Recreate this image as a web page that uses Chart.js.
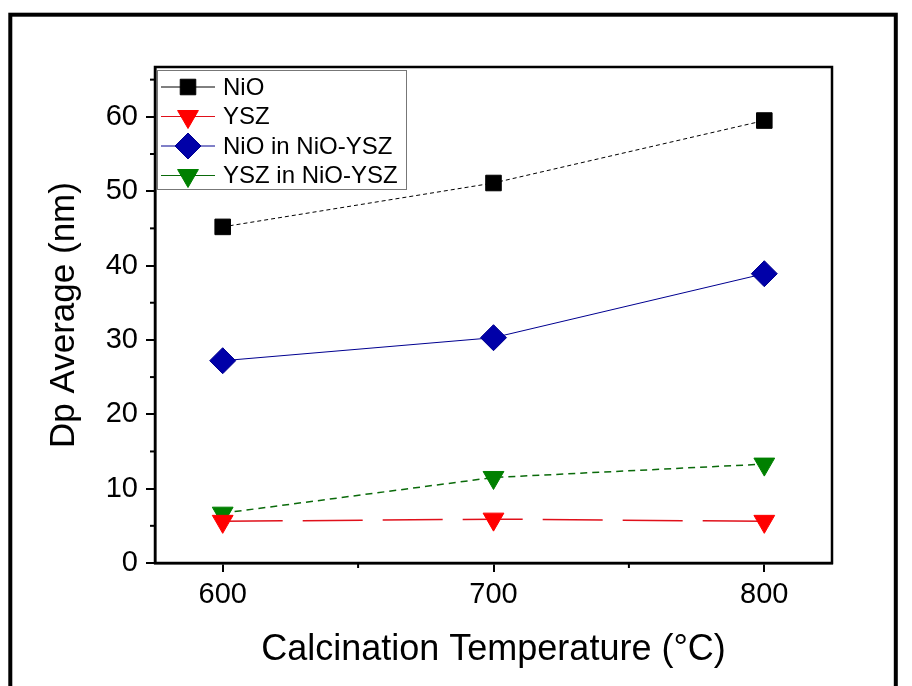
<!DOCTYPE html>
<html>
<head>
<meta charset="utf-8">
<script src="https://cdn.jsdelivr.net/npm/chart.js@4.4.0/dist/chart.umd.min.js"></script>
<style>
  html, body { margin: 0; padding: 0; background: #fff; }
  #wrap { width: 912px; height: 686px; }
</style>
</head>
<body>
<div id="wrap"><canvas id="myChartContainer" width="912" height="686"></canvas></div>
<script>
// valores
const temperatures = [600, 700, 800];
const nioValues = [45.2, 51.1, 59.5];
const yszValues = [5.6, 5.9, 5.6];
const nioCompositeValues = [27.2, 30.3, 38.9];
const yszCompositeValues = [6.7, 11.5, 13.3];
const seriesNames = ['NiO', 'YSZ', 'NiO in NiO-YSZ', 'YSZ in NiO-YSZ'];

const xTicks = [600, 700, 800];
const xMinorTicks = [650, 750];
const yTicks = [0, 10, 20, 30, 40, 50, 60];
const yMinorTicks = [5, 15, 25, 35, 45, 55, 65];

const FONT = "'Liberation Sans', Arial, sans-serif";

function toPoints(values) {
  return temperatures.map((t, i) => ({ x: t, y: values[i] }));
}

const datasets = [
  {
    label: seriesNames[0], data: toPoints(nioValues),
    borderColor: '#000', backgroundColor: '#000', borderWidth: 1, borderDash: [4, 3],
    pointStyle: 'rect', pointRadius: 11, pointBorderWidth: 1, pointRotation: 0
  },
  {
    label: seriesNames[1], data: toPoints(yszValues),
    borderColor: '#e0101a', backgroundColor: '#ff0000', borderWidth: 1.5, borderDash: [60, 20],
    pointStyle: 'triangle', pointRadius: 12, pointBorderWidth: 1, pointRotation: 180,
    pointBorderColor: '#ff0000'
  },
  {
    label: seriesNames[2], data: toPoints(nioCompositeValues),
    borderColor: '#000090', backgroundColor: '#0000a8', borderWidth: 1,
    pointStyle: 'rectRot', pointRadius: 13, pointBorderWidth: 1, pointRotation: 0
  },
  {
    label: seriesNames[3], data: toPoints(yszCompositeValues),
    borderColor: '#0a6a0a', backgroundColor: '#008000', borderWidth: 1.5, borderDash: [7, 5],
    pointStyle: 'triangle', pointRadius: 12, pointBorderWidth: 1, pointRotation: 180,
    pointBorderColor: '#008000'
  }
];

// marco exterior y fondo blanco
const framePlugin = {
  id: 'frame',
  beforeDraw(chart) {
    const ctx = chart.ctx;
    ctx.save();
    ctx.fillStyle = '#fff';
    ctx.fillRect(0, 0, chart.width, chart.height);
    ctx.strokeStyle = '#000';
    ctx.lineWidth = 4;
    ctx.strokeRect(10.3, 14.7, 885.5, 700);
    ctx.restore();
  }
};

// caja del gráfico, ticks menores y leyenda
const boxPlugin = {
  id: 'box',
  afterDraw(chart) {
    const ctx = chart.ctx;
    const a = chart.chartArea;
    const xs = chart.scales.x, ys = chart.scales.y;
    ctx.save();
    ctx.strokeStyle = '#000';
    ctx.lineWidth = 2;
    xMinorTicks.forEach(v => {
      const px = xs.getPixelForValue(v);
      ctx.beginPath(); ctx.moveTo(px, a.bottom); ctx.lineTo(px, a.bottom + 5); ctx.stroke();
    });
    yMinorTicks.forEach(v => {
      const py = ys.getPixelForValue(v);
      ctx.beginPath(); ctx.moveTo(a.left, py); ctx.lineTo(a.left - 5, py); ctx.stroke();
    });
    ctx.lineWidth = 2.5;
    ctx.strokeRect(a.left, a.top, a.right - a.left, a.bottom - a.top);

    // leyenda
    const lx = 157, ly = 70, lw = 249, lh = 119;
    ctx.fillStyle = '#fff';
    ctx.fillRect(lx, ly, lw, lh);
    ctx.strokeStyle = '#777';
    ctx.lineWidth = 1;
    ctx.strokeRect(lx + 0.5, ly + 0.5, lw, lh);
    ctx.font = '24px ' + FONT;
    ctx.textBaseline = 'middle';
    ctx.textAlign = 'left';
    chart.data.datasets.forEach((ds, i) => {
      const y = 87 + i * 29.5;
      ctx.strokeStyle = ds.borderColor;
      ctx.lineWidth = 1;
      ctx.setLineDash([]);
      ctx.beginPath(); ctx.moveTo(161, y); ctx.lineTo(215, y); ctx.stroke();
      ctx.fillStyle = ds.backgroundColor;
      ctx.strokeStyle = ds.pointBorderColor || ds.borderColor;
      Chart.helpers.drawPoint(ctx, {
        pointStyle: ds.pointStyle, radius: ds.pointRadius,
        rotation: ds.pointRotation, borderWidth: 1
      }, 188, y);
      ctx.fillStyle = '#000';
      ctx.fillText(ds.label, 223, y + 1);
    });
    ctx.restore();
  }
};

const chartOptions = {
  responsive: false,
  animation: false,
  layout: { padding: { top: 67, right: 80, left: 0, bottom: 0 } },
  plugins: {
    legend: { display: false },
    tooltip: { enabled: false }
  },
  scales: {
    x: {
      type: 'linear', min: 575, max: 825,
      afterBuildTicks: s => { s.ticks = xTicks.map(v => ({ value: v })); },
      afterFit: s => { s.height = 123; },
      grid: { drawOnChartArea: false, drawTicks: true, tickLength: 9, color: '#000', lineWidth: 2 },
      border: { display: true, color: '#000', width: 2.5 },
      ticks: { color: '#000', font: { family: FONT, size: 29 }, padding: 6, maxRotation: 0 },
      title: {
        display: true, text: 'Calcination Temperature (°C)', color: '#000',
        font: { family: FONT, size: 36 }, padding: { top: 0, bottom: 14 }
      }
    },
    y: {
      type: 'linear', min: 0, max: 66.7,
      afterBuildTicks: s => { s.ticks = yTicks.map(v => ({ value: v })); },
      afterFit: s => { s.width = 155; },
      grid: { drawOnChartArea: false, drawTicks: true, tickLength: 9, color: '#000', lineWidth: 2 },
      border: { display: true, color: '#000', width: 2.5 },
      ticks: { color: '#000', font: { family: FONT, size: 29 }, padding: 8 },
      title: {
        display: true, text: 'Dp Average (nm)', color: '#000',
        font: { family: FONT, size: 35 }, padding: { top: 43, bottom: 0 }
      }
    }
  }
};

const ctx = document.getElementById('myChartContainer').getContext('2d');
new Chart(ctx, {
  type: 'line',
  data: { datasets: datasets },
  options: chartOptions,
  plugins: [framePlugin, boxPlugin]
});
</script>
</body>
</html>
